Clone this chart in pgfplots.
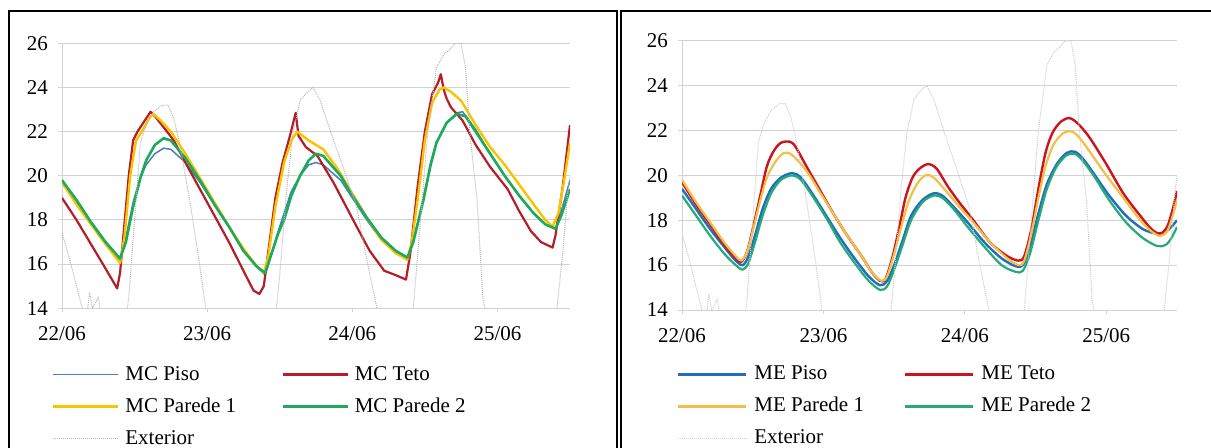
\documentclass[border=0pt]{standalone}
\usepackage{fontspec}
\setmainfont{Liberation Serif}
\usepackage{pgfplots}
\pgfplotsset{compat=1.18}
\usepackage{pgfplotstable}

\definecolor{gridgray}{RGB}{210,210,210}
\definecolor{mcpiso}{RGB}{74,126,187}
\definecolor{mcteto}{RGB}{180,30,40}
\definecolor{mcpar1}{RGB}{250,195,0}
\definecolor{mcpar2}{RGB}{30,170,90}
\definecolor{extgray}{RGB}{185,185,185}
\definecolor{mepiso}{RGB}{30,110,190}
\definecolor{meteto}{RGB}{205,20,30}
\definecolor{mepar1}{RGB}{242,192,70}
\definecolor{mepar2}{RGB}{40,170,120}

% ---------- MC (left) ----------
\pgfplotstableread{
d T
0 19.8
0.1 18.9
0.2 17.9
0.3 17.0
0.40 16.2
0.44 17.2
0.49 18.8
0.54 19.9
0.58 20.5
0.64 21.0
0.70 21.25
0.75 21.2
0.85 20.6
0.95 19.7
1.05 18.7
1.15 17.7
1.25 16.6
1.34 15.9
1.40 15.5
1.44 16.4
1.49 17.5
1.53 18.3
1.58 19.3
1.64 20.0
1.70 20.5
1.75 20.6
1.80 20.5
1.92 19.8
2.00 19.0
2.10 18.0
2.20 17.1
2.30 16.5
2.38 16.2
2.42 17.0
2.49 19.0
2.54 20.6
2.58 21.5
2.65 22.4
2.72 22.85
2.76 22.9
2.85 22.1
2.95 21.0
3.05 20.0
3.15 19.1
3.25 18.3
3.33 17.8
3.40 17.6
3.44 18.4
3.50 19.8
}\mcpisotab

\pgfplotstableread{
d T
0 19.0
0.1 18.0
0.2 16.9
0.3 15.8
0.38 14.9
0.40 15.6
0.43 17.8
0.46 20.0
0.49 21.6
0.52 22.0
0.55 22.3
0.58 22.6
0.61 22.9
0.64 22.7
0.70 22.2
0.77 21.6
0.85 20.6
0.95 19.4
1.05 18.2
1.15 17.0
1.25 15.7
1.32 14.8
1.36 14.65
1.39 15.0
1.43 17.0
1.47 19.0
1.52 20.6
1.57 21.8
1.61 22.85
1.63 21.8
1.68 21.3
1.76 20.9
1.87 19.7
1.95 18.7
2.03 17.7
2.12 16.6
2.22 15.7
2.30 15.5
2.37 15.3
2.40 16.5
2.45 19.5
2.50 22.0
2.55 23.7
2.59 24.2
2.61 24.6
2.63 23.9
2.65 23.5
2.68 23.1
2.76 22.5
2.85 21.4
2.95 20.4
3.07 19.4
3.15 18.4
3.23 17.5
3.30 17.0
3.38 16.75
3.40 17.3
3.45 19.5
3.50 22.3
}\mctetotab

\pgfplotstableread{
d T
0 19.7
0.1 18.7
0.2 17.8
0.3 16.9
0.40 16.05
0.43 17.2
0.47 20.0
0.51 21.6
0.55 22.0
0.60 22.6
0.63 22.8
0.68 22.5
0.75 22.0
0.85 21.0
0.95 19.9
1.05 18.8
1.15 17.7
1.25 16.7
1.33 16.0
1.39 15.6
1.42 16.3
1.47 18.6
1.53 20.6
1.58 21.6
1.62 22.0
1.70 21.6
1.80 21.2
1.90 20.3
2.00 19.2
2.10 18.1
2.20 17.1
2.30 16.5
2.38 16.2
2.41 17.0
2.45 18.9
2.50 21.6
2.55 23.3
2.60 23.9
2.63 24.0
2.68 23.8
2.75 23.4
2.85 22.3
2.95 21.3
3.05 20.5
3.15 19.6
3.25 18.7
3.33 18.0
3.38 17.7
3.42 18.3
3.46 19.8
3.50 21.5
}\mcparAtab

\pgfplotstableread{
d T
0 19.8
0.1 18.9
0.2 17.9
0.3 17.0
0.40 16.25
0.44 17.0
0.49 18.6
0.54 19.9
0.58 20.7
0.64 21.4
0.70 21.7
0.75 21.6
0.85 20.8
0.95 19.8
1.05 18.7
1.15 17.7
1.25 16.6
1.34 15.9
1.40 15.6
1.44 16.4
1.49 17.4
1.53 18.0
1.58 19.1
1.64 20.0
1.70 20.7
1.75 21.0
1.80 20.9
1.92 20.0
2.00 19.1
2.10 18.1
2.20 17.2
2.30 16.6
2.38 16.3
2.42 17.0
2.49 18.9
2.54 20.5
2.58 21.5
2.65 22.4
2.72 22.8
2.78 22.7
2.85 22.0
2.95 21.0
3.05 20.0
3.15 19.1
3.25 18.3
3.33 17.8
3.40 17.6
3.44 18.2
3.50 19.4
}\mcparBtab

% ---------- Exterior (shared) ----------
\pgfplotstableread{
d T
0.00 17.4
0.05 16.3
0.10 15.0
0.14 14.0
0.17 13.6
0.19 14.7
0.21 14.0
0.25 14.5
0.27 13.5
0.35 12.5
0.43 13.0
0.46 14.5
0.50 18.0
0.54 21.5
0.58 22.3
0.63 22.9
0.69 23.2
0.73 23.2
0.77 22.6
0.81 21.5
0.85 20.0
0.88 18.9
0.92 17.2
0.95 15.9
0.99 14.0
1.05 12.8
1.30 12.5
1.47 13.5
1.50 15.5
1.55 19.5
1.59 21.9
1.64 23.4
1.69 23.8
1.73 24.0
1.78 23.4
1.85 22.0
1.92 20.7
2.03 18.6
2.10 16.2
2.17 14.0
2.25 13.0
2.38 13.0
2.42 14.0
2.47 18.0
2.52 22.0
2.58 24.9
2.63 25.5
2.67 25.7
2.71 26.0
2.75 26.0
2.78 24.9
2.81 21.9
2.86 18.9
2.90 14.4
2.95 13.0
3.35 13.0
3.41 14.0
3.45 16.5
3.48 18.9
3.50 20.0
}\exttab

% ---------- ME (right) ----------
\pgfplotstableread{
d T
0 19.4
0.1 18.5
0.2 17.6
0.3 16.8
0.38 16.2
0.43 16.0
0.47 16.4
0.52 17.4
0.57 18.5
0.63 19.4
0.70 19.9
0.78 20.1
0.84 19.9
0.92 19.2
1.02 18.2
1.12 17.2
1.22 16.3
1.32 15.5
1.40 15.1
1.45 15.3
1.50 16.0
1.56 17.1
1.62 18.2
1.70 18.9
1.78 19.2
1.84 19.1
1.92 18.6
2.02 17.9
2.14 17.0
2.26 16.3
2.36 15.95
2.41 16.0
2.46 16.8
2.52 18.3
2.58 19.6
2.65 20.5
2.72 21.0
2.78 21.05
2.84 20.7
2.92 20.0
3.02 19.1
3.14 18.2
3.26 17.6
3.36 17.4
3.42 17.5
3.46 17.7
3.50 18.0
}\mepisotab

\pgfplotstableread{
d T
0 19.7
0.1 18.7
0.2 17.8
0.3 16.9
0.38 16.3
0.42 16.15
0.46 16.6
0.50 17.6
0.55 19.0
0.60 20.4
0.65 21.1
0.70 21.45
0.76 21.5
0.80 21.3
0.88 20.4
0.97 19.4
1.07 18.3
1.17 17.3
1.27 16.4
1.34 15.7
1.40 15.3
1.44 15.4
1.49 16.4
1.54 17.8
1.58 19.0
1.63 19.9
1.68 20.3
1.74 20.5
1.80 20.3
1.88 19.5
1.96 18.8
2.06 18.0
2.18 17.0
2.30 16.4
2.38 16.2
2.42 16.4
2.47 17.6
2.52 19.4
2.57 21.0
2.62 21.9
2.68 22.4
2.74 22.55
2.80 22.3
2.88 21.7
3.00 20.5
3.12 19.2
3.24 18.2
3.32 17.6
3.38 17.4
3.43 17.7
3.47 18.5
3.50 19.3
}\metetotab

\pgfplotstableread{
d T
0 19.8
0.1 18.8
0.2 17.9
0.3 17.0
0.38 16.4
0.42 16.2
0.46 16.6
0.50 17.5
0.55 18.8
0.60 19.9
0.66 20.6
0.72 21.0
0.78 20.9
0.88 20.2
0.97 19.3
1.07 18.3
1.17 17.3
1.27 16.4
1.34 15.7
1.41 15.3
1.45 15.5
1.50 16.5
1.55 17.7
1.60 18.8
1.66 19.6
1.72 20.0
1.78 19.9
1.88 19.2
1.96 18.6
2.06 17.9
2.18 17.0
2.30 16.3
2.38 16.0
2.42 16.2
2.47 17.4
2.52 19.0
2.57 20.4
2.63 21.4
2.70 21.9
2.76 21.95
2.82 21.6
2.90 20.9
3.00 20.0
3.12 19.0
3.24 18.0
3.32 17.5
3.38 17.3
3.43 17.5
3.47 18.2
3.50 18.9
}\meparAtab

\pgfplotstableread{
d T
0 19.1
0.1 18.2
0.2 17.3
0.3 16.5
0.38 16.0
0.43 15.8
0.47 16.1
0.52 17.1
0.57 18.2
0.63 19.2
0.70 19.8
0.78 20.0
0.84 19.8
0.92 19.1
1.02 18.1
1.12 17.0
1.22 16.1
1.32 15.3
1.40 14.9
1.45 15.05
1.50 15.8
1.56 16.9
1.62 18.0
1.70 18.8
1.78 19.1
1.84 19.0
1.92 18.5
2.02 17.7
2.14 16.8
2.26 16.0
2.36 15.7
2.41 15.75
2.46 16.5
2.52 18.0
2.58 19.4
2.65 20.4
2.72 20.9
2.78 20.95
2.84 20.6
2.92 19.9
3.02 18.9
3.14 17.9
3.26 17.2
3.36 16.85
3.42 16.9
3.46 17.2
3.50 17.7
}\meparBtab

\pgfplotsset{
  panel/.style={
    scale only axis,
    xmin=0, xmax=3.5, ymin=14, ymax=26,
    ytick={14,16,...,26},
    xtick={0,1,2,3},
    xticklabels={22/06,23/06,24/06,25/06},
    axis x line*=bottom, axis y line*=left,
    axis line style={draw=gridgray, line width=1bp, -},
    ymajorgrids,
    grid style={draw=gridgray, line width=1bp},
    tick align=outside,
    major tick length=4bp,
    tick style={draw=gridgray, line width=1bp},
    tick label style={font=\fontsize{21bp}{25bp}\selectfont},
    /pgf/number format/assume math mode=true,
    yticklabel style={inner sep=0pt, xshift=-10bp},
    xticklabel style={inner sep=0pt, yshift=-14bp},
    legend columns=2,
    legend cell align=left,
    legend style={draw=none, fill=none, inner sep=0pt, outer sep=0pt,
      font=\fontsize{21bp}{25bp}\selectfont,
      row sep=13bp,
      nodes={inner sep=0pt, text height=15bp, text depth=4bp},
      anchor=north west},
    every axis plot/.append style={line join=round},
  }
}

\begin{document}
\begin{tikzpicture}
\useasboundingbox (0bp,0bp) rectangle (1211bp,448bp);
\fill[white] (0bp,0bp) rectangle (1211bp,448bp);
\draw[black, line width=2bp] (9bp,0bp) -- (9bp,437bp) -- (617bp,437bp) -- (617bp,0bp);
\draw[black, line width=2bp] (621bp,0bp) -- (621bp,437bp) -- (1212bp,437bp);

\begin{axis}[panel,
  width=508bp, height=265bp,
  at={(62bp,139.7bp)}, anchor=south west,
  legend style={at={(-0.0197,-0.214)},
    /tikz/every odd column/.append style={column sep=6bp},
    /tikz/every even column/.append style={column sep=45bp}},
  legend image code/.code={\draw[#1] (0bp,0bp) -- (65bp,0bp);},
]
\addplot[mcpiso, line width=1.5bp] table[x=d,y=T] {\mcpisotab};
\addlegendentry{MC Piso}
\addplot[mcteto, line width=2.2bp] table[x=d,y=T] {\mctetotab};
\addlegendentry{MC Teto}
\addplot[mcpar1, line width=2.4bp] table[x=d,y=T] {\mcparAtab};
\addlegendentry{MC Parede 1}
\addplot[mcpar2, line width=2.6bp] table[x=d,y=T] {\mcparBtab};
\addlegendentry{MC Parede 2}
\addplot[extgray, line width=1bp, densely dotted] table[x=d,y=T] {\exttab};
\addlegendentry{Exterior}
\end{axis}

\begin{axis}[panel,
  width=495bp, height=269.3bp,
  at={(682bp,138bp)}, anchor=south west,
  legend style={at={(-0.0101,-0.204)},
    /tikz/every odd column/.append style={column sep=7bp},
    /tikz/every even column/.append style={column sep=40bp}},
  legend image code/.code={\draw[#1] (0bp,0bp) -- (68bp,0bp);},
]
\addplot[mepiso, line width=2.4bp, smooth] table[x=d,y=T] {\mepisotab};
\addlegendentry{ME Piso}
\addplot[meteto, line width=2.4bp, smooth] table[x=d,y=T] {\metetotab};
\addlegendentry{ME Teto}
\addplot[mepar1, line width=2.2bp, smooth] table[x=d,y=T] {\meparAtab};
\addlegendentry{ME Parede 1}
\addplot[mepar2, line width=2.2bp, smooth] table[x=d,y=T] {\meparBtab};
\addlegendentry{ME Parede 2}
\addplot[extgray!70, line width=1bp, densely dotted] table[x=d,y=T] {\exttab};
\addlegendentry{Exterior}
\end{axis}
\end{tikzpicture}
\end{document}
